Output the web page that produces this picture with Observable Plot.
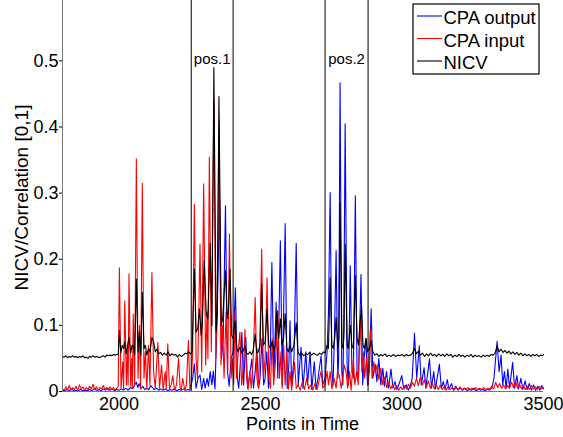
<!DOCTYPE html>
<html>
<head>
<meta charset="utf-8">
<script src="https://cdn.jsdelivr.net/npm/d3@7"></script>
<script src="https://cdn.jsdelivr.net/npm/@observablehq/plot@0.6"></script>
<style>
  html, body { margin: 0; padding: 0; background: white; }
  #chart { width: 563px; height: 437px; }
</style>
</head>
<body>
<div id="chart"></div>
<script>
const seriesNames = ["CPA output", "CPA input", "NICV"];
const seriesColors = ["#0000ff", "#ff0000", "#000000"];
const xTicks = [2000, 2500, 3000, 3500];
const yTicks = [0, 0.1, 0.2, 0.3, 0.4, 0.5];
const posLines = [2255, 2403, 2728, 2880];
const posLabels = [{x: 2329, label: "pos.1"}, {x: 2804, label: "pos.2"}];

const cpaOutput = [
[1800,0.002],[1808,0.001],[1816,0.003],[1824,0.001],[1832,0.004],[1840,0.001],[1848,0.002],[1856,0.001],[1864,0.003],[1872,0.001],[1880,0.002],[1888,0.001],[1896,0.003],[1904,0.001],[1912,0.004],[1920,0.002],[1928,0.003],[1936,0.001],[1944,0.004],[1952,0.002],[1960,0.005],[1968,0.002],[1976,0.004],[1984,0.001],[1992,0.003],[2000,0.002],[2008,0.004],[2016,0.002],[2024,0.005],[2032,0.002],[2040,0.006],[2048,0.004],[2055,0.01],[2061,0.014],[2066,0.006],[2071,0.012],[2077,0.004],[2084,0.008],[2090,0.003],[2098,0.005],[2105,0.003],[2112,0.009],[2118,0.006],[2124,0.003],[2132,0.005],[2140,0.002],[2148,0.004],[2156,0.002],[2164,0.004],[2172,0.001],[2180,0.003],[2188,0.002],[2196,0.004],[2204,0.001],[2212,0.003],[2220,0.002],[2228,0.004],[2236,0.002],[2244,0.003],[2250,0.002],
[2255,0.01],[2260,0.02],[2266,0.042],[2272,0.005],[2279,0.02],[2286,0.025],[2292,0.003],[2299,0.02],[2304,0.005],[2311,0.02],[2316,0.008],[2322,0.03],[2328,0.01],[2333,0.031],[2339,0.004],[2347,0.12],[2355,0.29],[2362,0.05],[2368,0.08],[2376,0.281],[2383,0.03],[2389,0.008],[2396,0.05],[2403,0.06],[2411,0.157],
[2418,0.02],[2423,0.005],[2428,0.04],[2434,0.089],[2440,0.01],[2448,0.082],[2454,0.005],[2460,0.02],[2469,0.049],[2475,0.005],[2481,0.03],[2487,0.065],[2493,0.005],[2498,0.02],[2505,0.08],[2511,0.01],[2516,0.02],[2522,0.06],[2528,0.005],[2534,0.05],[2540,0.195],[2547,0.02],[2555,0.135],[2561,0.02],[2570,0.228],[2577,0.01],[2587,0.254],[2594,0.005],[2600,0.04],[2604,0.107],[2610,0.01],[2618,0.05],[2626,0.224],[2633,0.01],[2643,0.067],[2650,0.005],[2660,0.06],[2666,0.01],[2675,0.06],[2681,0.003],[2690,0.045],[2696,0.003],[2703,0.02],[2714,0.054],[2720,0.01],[2728,0.02],
[2735,0.06],[2740,0.12],[2746,0.301],[2752,0.03],[2756,0.01],[2761,0.08],[2767,0.213],[2773,0.02],[2776,0.05],[2781,0.467],[2787,0.03],[2791,0.01],[2794,0.1],[2799,0.405],[2806,0.04],[2810,0.01],[2813,0.07],[2817,0.19],[2823,0.03],[2828,0.02],[2835,0.296],[2841,0.03],[2846,0.02],[2855,0.177],[2861,0.01],[2866,0.05],[2872,0.08],[2878,0.01],[2884,0.03],[2891,0.125],[2897,0.02],
[2905,0.041],[2911,0.015],[2918,0.05],[2925,0.01],[2932,0.035],[2938,0.008],[2945,0.03],[2952,0.005],[2961,0.034],[2968,0.005],[2975,0.015],[2982,0.003],[2990,0.012],[2999,0.024],[3006,0.004],[3015,0.01],[3022,0.002],[3030,0.01],[3036,0.02],[3044,0.088],[3052,0.02],[3061,0.069],[3068,0.01],[3078,0.036],[3084,0.005],[3097,0.049],[3104,0.005],[3112,0.03],[3118,0.004],[3132,0.041],[3139,0.005],[3146,0.015],[3152,0.003],[3160,0.018],[3166,0.003],[3175,0.012],[3182,0.002],[3190,0.008],[3198,0.002],
[3206,0.006],[3214,0.002],[3222,0.005],[3230,0.001],[3238,0.004],[3246,0.002],[3254,0.005],[3262,0.001],[3270,0.004],[3278,0.002],[3286,0.003],[3294,0.001],[3302,0.004],[3310,0.002],[3318,0.006],[3325,0.02],[3336,0.076],[3343,0.03],[3350,0.055],[3356,0.01],[3362,0.03],[3368,0.005],[3374,0.034],[3380,0.005],[3391,0.044],[3398,0.005],[3406,0.024],[3412,0.004],[3420,0.02],[3427,0.003],[3435,0.016],[3442,0.003],[3450,0.012],[3457,0.002],[3465,0.01],[3472,0.002],[3480,0.008],[3487,0.002],[3494,0.009],[3500,0.004]
];

const cpaInput = [
[1800,0.004],[1806,0.002],[1812,0.007],[1818,0.003],[1824,0.009],[1830,0.002],[1836,0.006],[1842,0.003],[1848,0.008],[1854,0.002],[1860,0.01],[1866,0.004],[1872,0.007],[1878,0.002],[1884,0.006],[1890,0.003],[1896,0.008],[1902,0.004],[1908,0.011],[1914,0.003],[1920,0.007],[1926,0.002],[1932,0.006],[1938,0.004],[1944,0.009],[1950,0.003],[1956,0.006],[1962,0.002],[1968,0.007],[1974,0.003],[1980,0.006],[1986,0.002],[1992,0.005],[1997,0.008],
[2001,0.187],[2007,0.004],[2013,0.045],[2016,0.004],[2020,0.137],[2026,0.01],[2030,0.07],[2032,0.01],[2035,0.178],[2041,0.008],[2045,0.05],[2047,0.005],[2050,0.117],[2055,0.01],[2061,0.352],[2067,0.02],[2072,0.1],[2076,0.005],[2082,0.315],[2088,0.02],[2093,0.06],[2098,0.004],[2104,0.07],[2109,0.01],[2116,0.18],[2122,0.03],[2128,0.005],[2137,0.074],[2143,0.005],[2150,0.04],[2156,0.003],[2163,0.03],[2167,0.005],[2172,0.072],[2178,0.004],[2184,0.01],[2190,0.024],[2196,0.002],[2203,0.01],[2210,0.05],[2216,0.004],[2220,0.003],[2225,0.02],[2232,0.002],[2238,0.01],[2245,0.077],[2250,0.005],
[2255,0.01],[2260,0.06],[2266,0.283],[2272,0.05],[2277,0.02],[2281,0.1],[2286,0.223],[2292,0.03],[2299,0.314],[2306,0.04],[2311,0.12],[2314,0.05],[2319,0.354],[2326,0.06],[2335,0.44],[2342,0.05],[2347,0.15],[2353,0.41],[2360,0.04],[2366,0.1],[2371,0.02],[2378,0.12],[2384,0.03],[2390,0.238],[2396,0.02],[2400,0.05],[2405,0.01],[2410,0.12],[2415,0.02],
[2421,0.06],[2427,0.09],[2433,0.01],[2440,0.04],[2445,0.094],[2451,0.02],[2456,0.003],[2462,0.03],[2467,0.005],[2474,0.05],[2481,0.142],[2487,0.02],[2492,0.005],[2497,0.06],[2504,0.215],[2510,0.02],[2516,0.05],[2523,0.172],[2529,0.02],[2535,0.005],[2541,0.08],[2546,0.01],[2552,0.04],[2561,0.122],[2567,0.02],[2572,0.06],[2576,0.005],[2582,0.07],[2587,0.01],[2593,0.06],[2598,0.003],[2604,0.03],[2610,0.002],[2620,0.044],[2626,0.005],[2633,0.01],[2640,0.002],[2648,0.015],[2655,0.003],[2663,0.02],[2670,0.004],[2678,0.01],[2685,0.002],[2692,0.012],[2700,0.003],[2706,0.015],[2714,0.031],[2720,0.005],[2728,0.01],
[2735,0.031],[2740,0.01],[2746,0.03],[2752,0.004],[2760,0.02],[2767,0.005],[2772,0.03],[2778,0.025],[2785,0.005],[2790,0.02],[2796,0.04],[2802,0.03],[2808,0.005],[2815,0.03],[2820,0.002],[2828,0.05],[2833,0.01],[2840,0.03],[2845,0.01],[2853,0.112],[2858,0.03],[2863,0.06],[2868,0.02],[2874,0.05],[2880,0.01],[2888,0.095],[2894,0.02],
[2900,0.045],[2906,0.028],[2912,0.04],[2918,0.018],[2925,0.035],[2932,0.01],[2939,0.022],[2946,0.006],[2953,0.014],[2960,0.004],[2967,0.011],[2974,0.003],[2981,0.009],[2988,0.002],[2995,0.007],[3002,0.003],[3009,0.009],[3016,0.004],[3023,0.011],[3030,0.005],[3037,0.014],[3044,0.008],[3051,0.02],[3058,0.009],[3065,0.022],[3072,0.01],[3079,0.018],[3086,0.006],[3093,0.016],[3100,0.005],[3107,0.013],[3114,0.004],[3121,0.01],[3128,0.003],[3135,0.009],[3142,0.003],[3149,0.008],[3156,0.002],[3163,0.007],[3170,0.003],[3177,0.006],[3184,0.002],[3191,0.006],[3198,0.003],[3205,0.007],[3212,0.002],[3219,0.005],[3226,0.003],[3233,0.006],[3240,0.002],[3247,0.005],[3254,0.003],[3261,0.006],[3268,0.002],[3275,0.005],[3282,0.003],[3289,0.006],[3296,0.002],[3303,0.005],[3310,0.003],[3317,0.008],[3324,0.004],[3331,0.014],[3338,0.006],[3345,0.012],[3352,0.005],[3359,0.01],[3366,0.004],[3373,0.009],[3380,0.005],[3387,0.014],[3394,0.006],[3401,0.016],[3408,0.005],[3415,0.011],[3422,0.004],[3429,0.009],[3436,0.003],[3443,0.008],[3450,0.003],[3457,0.009],[3464,0.004],[3471,0.007],[3478,0.003],[3485,0.008],[3492,0.004],[3500,0.006]
];

const nicv = [
[1800,0.053],[1806,0.052],[1812,0.054],[1818,0.051],[1824,0.053],[1830,0.052],[1836,0.054],[1842,0.052],[1848,0.053],[1854,0.051],[1860,0.053],[1866,0.052],[1872,0.054],[1878,0.051],[1884,0.052],[1890,0.05],[1896,0.053],[1902,0.052],[1908,0.054],[1914,0.052],[1920,0.053],[1926,0.052],[1932,0.051],[1938,0.053],[1944,0.054],[1950,0.052],[1956,0.055],[1962,0.054],[1968,0.055],[1974,0.054],[1980,0.056],[1986,0.055],[1992,0.056],[1997,0.056],
[2001,0.092],[2006,0.058],[2011,0.07],[2016,0.065],[2020,0.075],[2025,0.057],[2030,0.07],[2035,0.082],[2041,0.058],[2046,0.07],[2050,0.068],[2055,0.055],[2061,0.17],[2067,0.06],[2072,0.09],[2077,0.055],[2082,0.15],[2088,0.065],[2093,0.07],[2098,0.055],[2104,0.065],[2109,0.06],[2116,0.082],[2122,0.075],[2128,0.06],[2134,0.064],[2140,0.057],[2147,0.059],[2153,0.055],[2160,0.058],[2167,0.055],[2173,0.06],[2180,0.054],[2186,0.057],[2193,0.055],[2200,0.056],[2207,0.052],[2213,0.056],[2220,0.053],[2227,0.055],[2234,0.058],[2240,0.057],[2246,0.06],[2252,0.057],
[2258,0.06],[2266,0.185],[2272,0.09],[2278,0.095],[2284,0.125],[2290,0.085],[2294,0.1],[2301,0.198],[2308,0.117],[2314,0.11],[2322,0.224],[2328,0.1],[2335,0.49],[2343,0.09],[2347,0.12],[2353,0.446],[2361,0.1],[2366,0.11],[2376,0.183],[2382,0.11],[2386,0.12],[2392,0.185],[2398,0.085],[2403,0.08],[2410,0.107],[2416,0.065],
[2421,0.06],[2427,0.067],[2433,0.058],[2440,0.062],[2445,0.07],[2451,0.058],[2456,0.056],[2462,0.06],[2468,0.056],[2474,0.062],[2481,0.087],[2487,0.058],[2492,0.06],[2498,0.07],[2504,0.162],[2510,0.07],[2516,0.075],[2523,0.125],[2529,0.07],[2535,0.065],[2541,0.076],[2547,0.06],[2552,0.07],[2558,0.122],[2564,0.08],[2570,0.11],[2576,0.07],[2581,0.08],[2587,0.118],[2593,0.065],[2598,0.06],[2604,0.07],[2610,0.06],[2618,0.07],[2626,0.104],[2632,0.06],[2638,0.055],[2645,0.058],[2652,0.054],[2660,0.057],[2667,0.056],[2674,0.059],[2680,0.055],[2688,0.058],[2695,0.056],[2702,0.055],[2709,0.058],[2716,0.056],[2722,0.06],[2728,0.058],
[2735,0.07],[2740,0.065],[2746,0.172],[2752,0.07],[2757,0.065],[2762,0.08],[2767,0.112],[2773,0.065],[2777,0.08],[2781,0.286],[2788,0.07],[2792,0.065],[2795,0.09],[2799,0.223],[2806,0.07],[2810,0.065],[2817,0.1],[2823,0.07],[2828,0.065],[2835,0.175],[2841,0.08],[2846,0.07],[2851,0.1],[2857,0.13],[2862,0.07],[2867,0.065],[2873,0.08],[2878,0.06],[2884,0.065],[2891,0.077],[2897,0.06],
[2904,0.055],[2911,0.057],[2918,0.053],[2925,0.056],[2932,0.054],[2940,0.057],[2947,0.053],[2954,0.055],[2962,0.053],[2970,0.056],[2977,0.053],[2985,0.055],[2992,0.054],[3000,0.056],[3008,0.053],[3015,0.056],[3022,0.054],[3030,0.055],[3037,0.058],[3044,0.065],[3051,0.057],[3058,0.061],[3065,0.055],[3072,0.058],[3080,0.053],[3087,0.057],[3094,0.054],[3101,0.058],[3108,0.054],[3115,0.056],[3122,0.053],[3130,0.057],[3137,0.054],[3144,0.056],[3151,0.053],[3158,0.057],[3165,0.054],[3172,0.056],[3180,0.052],[3187,0.055],[3194,0.053],[3201,0.056],[3208,0.053],[3215,0.055],[3222,0.052],[3230,0.055],[3237,0.053],[3244,0.056],[3251,0.052],[3258,0.055],[3265,0.053],[3272,0.054],[3280,0.052],[3287,0.055],[3294,0.053],[3301,0.055],[3308,0.053],[3315,0.056],[3322,0.055],[3329,0.058],[3336,0.069],[3343,0.06],[3350,0.064],[3357,0.059],[3364,0.062],[3371,0.058],[3378,0.061],[3385,0.057],[3392,0.06],[3399,0.056],[3406,0.059],[3413,0.055],[3420,0.058],[3427,0.054],[3434,0.057],[3441,0.054],[3448,0.056],[3455,0.053],[3462,0.056],[3469,0.054],[3476,0.056],[3483,0.053],[3490,0.055],[3496,0.054],[3500,0.056]
];

const series = [cpaOutput, cpaInput, nicv];
const font = "'Liberation Sans', Arial, Helvetica, sans-serif";

const chart = Plot.plot({
  width: 563,
  height: 437,
  marginLeft: 62,
  marginRight: 20,
  marginTop: 0,
  marginBottom: 46,
  x: {domain: [1800, 3500]},
  y: {domain: [0, 0.5913]},
  style: {fontFamily: font, fontSize: "18px", background: "white", color: "black"},
  marks: [
    ...series.map((s, i) => Plot.line(s, {x: d => d[0], y: d => d[1], stroke: seriesColors[i], strokeWidth: 1.1})),
    Plot.ruleX(posLines, {stroke: "black", strokeWidth: 1}),
    Plot.text(posLabels, {x: "x", y: () => 0.503, text: "label", fontSize: 15, fill: "black"}),
    Plot.ruleY([0], {stroke: "#777"}),
    Plot.ruleX([1800], {stroke: "#777"}),
    Plot.axisY({ticks: yTicks, tickSize: 3, tickPadding: 1, tickFormat: d => d === 0 ? "0" : d.toFixed(1), label: null, fontSize: 18}),
    Plot.axisX({ticks: xTicks, tickSize: 0, tickPadding: 6, tickFormat: d => String(d), label: null, fontSize: 18})
  ]
});

document.getElementById("chart").appendChild(chart);

const svg = d3.select(chart);
svg.append("text")
  .attr("x", 302.5).attr("y", 430)
  .attr("text-anchor", "middle")
  .attr("font-family", font).attr("font-size", 18).attr("fill", "black")
  .text("Points in Time");
svg.append("text")
  .attr("transform", "translate(27.5,197.5) rotate(-90)")
  .attr("text-anchor", "middle")
  .attr("font-family", font).attr("font-size", 19).attr("fill", "black")
  .text("NICV/Correlation [0,1]");

const lg = svg.append("g");
lg.append("rect").attr("x", 413).attr("y", 4).attr("width", 126).attr("height", 70)
  .attr("fill", "white").attr("stroke", "black").attr("stroke-width", 1.2);
seriesNames.forEach((name, i) => {
  const base = 24 + i * 22.5;
  lg.append("line").attr("x1", 417).attr("x2", 442).attr("y1", base - 8).attr("y2", base - 8)
    .attr("stroke", seriesColors[i]).attr("stroke-width", 1.1);
  lg.append("text").attr("x", 443.5).attr("y", base)
    .attr("text-anchor", "start")
    .attr("font-family", font).attr("font-size", 18.5).attr("fill", "black")
    .text(name);
});
</script>
</body>
</html>
